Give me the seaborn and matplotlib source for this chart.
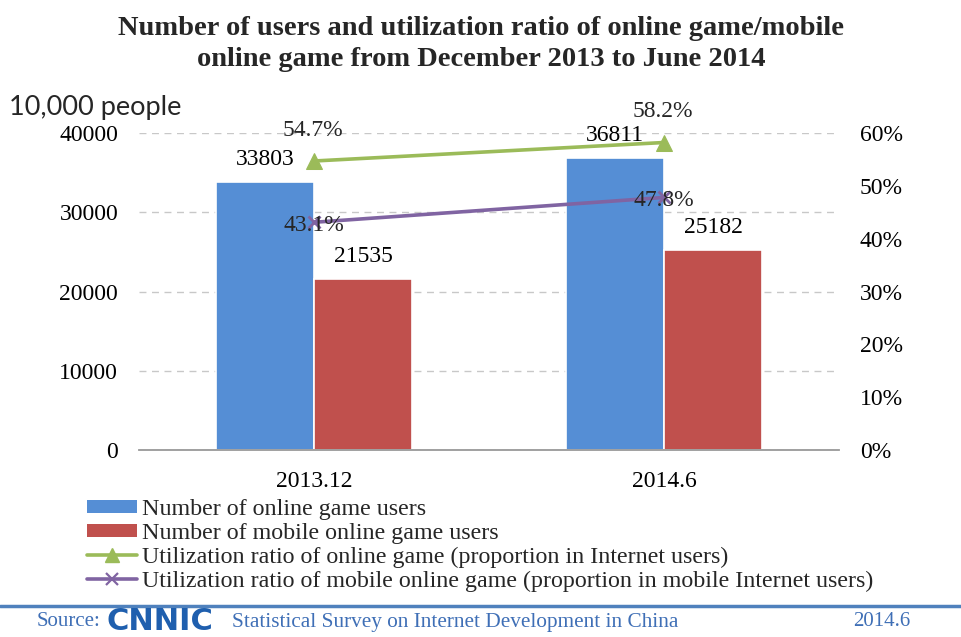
import matplotlib
matplotlib.use("Agg")
import matplotlib.pyplot as plt
import pandas as pd
import seaborn as sns
from matplotlib.lines import Line2D
from matplotlib.patches import Patch

# ---- data -------------------------------------------------------------
periods = ["2013.12", "2014.6"]
online_game_users = [33803, 36811]          # 10,000 people
mobile_game_users = [21535, 25182]          # 10,000 people
online_game_ratio = [54.7, 58.2]            # %
mobile_game_ratio = [43.1, 47.8]            # %

bar_names = ["Number of online game users", "Number of mobile online game users"]
line_names = [
    "Utilization ratio of online game (proportion in Internet users)",
    "Utilization ratio of mobile online game (proportion in mobile Internet users)",
]
left_ticks = [0, 10000, 20000, 30000, 40000]
right_ticks = [0, 10, 20, 30, 40, 50, 60]

BLUE, RED, GREEN, PURPLE = "#558ED5", "#C0504D", "#9BBB59", "#8064A2"
FOOT_BLUE = "#3F6FB6"

# ---- style ------------------------------------------------------------
sns.set_theme(style="white")
plt.rcParams["font.family"] = ["Liberation Serif", "DejaVu Serif"]

W, H = 961, 637
fig = plt.figure(figsize=(W / 100, H / 100), dpi=100)

ax = fig.add_axes([139 / W, 1 - 450 / H, 700 / W, 317 / H])

df = pd.DataFrame({
    "period": periods * 2,
    "users": online_game_users + mobile_game_users,
    "series": [bar_names[0]] * len(periods) + [bar_names[1]] * len(periods),
})
sns.barplot(data=df, x="period", y="users", hue="series",
            palette=[BLUE, RED], width=0.56, saturation=1,
            edgecolor="white", linewidth=1.2, legend=False, ax=ax)

for cont, vals in zip(ax.containers, [online_game_users, mobile_game_users]):
    ax.bar_label(cont, labels=[str(v) for v in vals], padding=9,
                 fontsize=17, color="black", clip_on=False)

ax.set_xlim(-0.5, 1.5)
ax.set_ylim(0, 40000)
ax.set_yticks(left_ticks)
ax.set_yticklabels([str(t) for t in left_ticks])
ax.set_xlabel("")
ax.set_ylabel("")
ax.yaxis.grid(True, linestyle=(0, (5, 4)), color="#c8c8c8", linewidth=1)
ax.set_axisbelow(True)
ax.tick_params(axis="y", length=0, pad=15, labelsize=17, labelcolor="black")
ax.tick_params(axis="x", which="major", length=0, pad=15, labelsize=17,
               labelcolor="black")
ax.set_xticks([-0.5, 0.5, 1.5], minor=True)
ax.tick_params(axis="x", which="minor", length=6, width=1.1, color="#999999",
               direction="out")
for s in ["left", "right", "top"]:
    ax.spines[s].set_visible(False)
ax.spines["bottom"].set_color("#999999")
ax.spines["bottom"].set_linewidth(1.3)

# ---- ratio lines on the secondary axis --------------------------------
ax2 = ax.twinx()
ax2.set_ylim(0, 60)
xs = list(range(len(periods)))
sns.lineplot(x=xs, y=online_game_ratio, ax=ax2, color=GREEN, linewidth=2.6,
             marker="^", markersize=12, markeredgecolor=GREEN,
             markerfacecolor=GREEN, legend=False)
sns.lineplot(x=xs, y=mobile_game_ratio, ax=ax2, color=PURPLE, linewidth=2.6,
             marker="x", markersize=9, markeredgewidth=2,
             markeredgecolor=PURPLE, legend=False)

for x, v in zip(xs, online_game_ratio):
    ax2.annotate(f"{v}%", (x, v), xytext=(-1, 22), textcoords="offset points",
                 ha="center", va="center", fontsize=17, annotation_clip=False)
for x, v in zip(xs, mobile_game_ratio):
    ax2.annotate(f"{v}%", (x, v), xytext=(0, -2), textcoords="offset points",
                 ha="center", va="center", fontsize=17, annotation_clip=False)

ax2.set_yticks(right_ticks)
ax2.set_yticklabels([f"{t}%" for t in right_ticks])
ax2.tick_params(axis="y", length=0, pad=15, labelsize=17, labelcolor="black")
ax2.grid(False)
for s in ["left", "right", "top", "bottom"]:
    ax2.spines[s].set_visible(False)

# ---- titles -----------------------------------------------------------
fig.text(481 / W, 1 - 44 / H,
         "Number of users and utilization ratio of online game/mobile\n"
         "online game from December 2013 to June 2014",
         ha="center", va="center", fontsize=20.5, fontweight="bold",
         linespacing=1.35)
fig.text(9 / W, 1 - 108 / H, "10,000 people", family="Lato", fontsize=19.5,
         ha="left", va="center")

# ---- legend -----------------------------------------------------------
handles = [
    Patch(facecolor=BLUE, edgecolor="none"),
    Patch(facecolor=RED, edgecolor="none"),
    Line2D([], [], color=GREEN, lw=2.6, marker="^", markersize=10),
    Line2D([], [], color=PURPLE, lw=2.6, marker="x", markersize=8,
           markeredgewidth=1.6),
]
fig.legend(handles, bar_names + line_names, loc="upper left",
           bbox_to_anchor=(87 / W, 1 - 499 / H), frameon=False, fontsize=17.3,
           handlelength=2.1, handleheight=0.5, handletextpad=0.2,
           labelspacing=0.12, borderpad=0, borderaxespad=0)

# ---- footer -----------------------------------------------------------
fig.add_artist(Line2D([0, 1], [1 - 606 / H] * 2, transform=fig.transFigure,
                      color="#4F81BD", lw=2.5))
fig.text(37 / W, 1 - 622 / H, "Source:", color=FOOT_BLUE, fontsize=15,
         ha="left", va="center")
fig.text(107 / W, 1 - 621 / H, "CNNIC", color="#1F5FAE", fontsize=22,
         fontweight="bold", family="DejaVu Sans", ha="left", va="center")
fig.text(232 / W, 1 - 622 / H,
         "Statistical Survey on Internet Development in China",
         color=FOOT_BLUE, fontsize=15.3, ha="left", va="center")
fig.text(910 / W, 1 - 622 / H, "2014.6", color=FOOT_BLUE, fontsize=15,
         ha="right", va="center")

fig.savefig("out.png", dpi=100)
